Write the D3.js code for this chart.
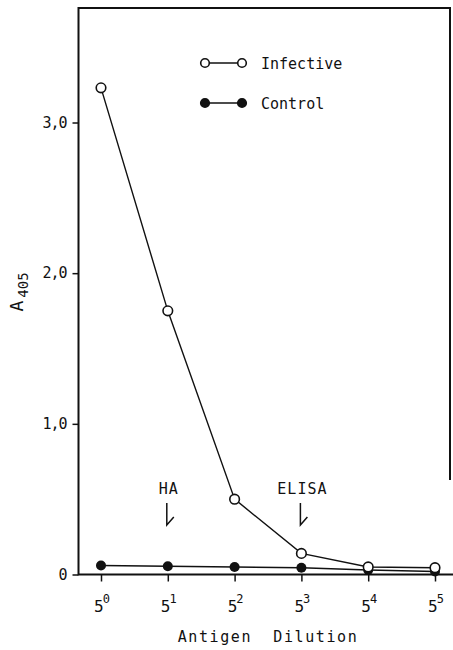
<!DOCTYPE html>
<html>
<head>
<meta charset="utf-8">
<script src="https://cdn.jsdelivr.net/npm/d3@7"></script>
<style>
	body { margin: 0; background: #fff; }
	svg { display: block; }
	text { font-family: "DejaVu Sans Mono", monospace; fill: #111; }
</style>
</head>
<body>
<svg id="chart" width="453" height="650"></svg>
<script>
// data
const exponents = [0, 1, 2, 3, 4, 5]
const infective = [3.23, 1.75, 0.50, 0.14, 0.05, 0.045]
const control = [0.06, 0.055, 0.05, 0.045, 0.03, 0.02]
const yTicks = [0, 1, 2, 3]
const notes = [{ label: 'HA', at: 1 }, { label: 'ELISA', at: 3 }]

const svg = d3.select('#chart')

const x = d3.scalePoint()
	.domain(exponents)
	.range([101, 435])

const y = d3.scaleLinear()
	.domain([0, 3.76])
	.range([574.5, 8])

// frame
svg.append('path')
	.attr('d', 'M450,480 L450,8 L78.5,8 L78.5,574.5 L453,574.5')
	.attr('fill', 'none')
	.attr('stroke', '#111')
	.attr('stroke-width', 2)

// y axis
const yAxis = svg.append('g')
	.attr('transform', 'translate(78.5,0)')
	.call(d3.axisLeft(y)
		.tickValues(yTicks)
		.tickSize(6)
		.tickPadding(6)
		.tickFormat(d => d === 0 ? '0' : d3.format('.1f')(d).replace('.', ',')))
yAxis.select('.domain').remove()
yAxis.selectAll('line').attr('stroke', '#111').attr('stroke-width', 1.5)
yAxis.selectAll('text')
	.style('font-family', '"DejaVu Sans Mono", monospace')
	.attr('font-size', 15)
	.attr('letter-spacing', -1)
	.attr('fill', '#111')

// x axis
const xAxis = svg.append('g')
	.attr('transform', 'translate(0,574.5)')
	.call(d3.axisBottom(x).tickSize(7).tickFormat(''))
xAxis.select('.domain').remove()
xAxis.selectAll('line').attr('stroke', '#111').attr('stroke-width', 1.5)

const xLabels = svg.append('g')
	.selectAll('text')
	.data(exponents)
	.join('text')
	.attr('x', d => x(d) + 1)
	.attr('y', 612)
	.attr('text-anchor', 'middle')
	.attr('font-size', 16)
xLabels.append('tspan').text('5')
xLabels.append('tspan')
	.attr('dx', -1)
	.attr('dy', -9)
	.attr('font-size', 12)
	.text(d => d)

// axis titles
svg.append('text')
	.attr('x', 268)
	.attr('y', 642)
	.attr('text-anchor', 'middle')
	.attr('font-size', 15)
	.attr('letter-spacing', 1.6)
	.attr('xml:space', 'preserve')
	.text('Antigen  Dilution')

const yTitle = svg.append('text')
	.attr('transform', 'translate(23,292) rotate(-90)')
	.attr('text-anchor', 'middle')
	.attr('font-size', 18)
yTitle.append('tspan').text('A')
yTitle.append('tspan')
	.attr('dx', 3)
	.attr('dy', 5)
	.attr('font-size', 14)
	.text('405')

// series
const line = d3.line()
	.x((d, i) => x(exponents[i]))
	.y(d => y(d))

svg.append('path')
	.datum(control)
	.attr('fill', 'none')
	.attr('stroke', '#111')
	.attr('stroke-width', 1.6)
	.attr('d', line)

svg.append('path')
	.datum(infective)
	.attr('fill', 'none')
	.attr('stroke', '#111')
	.attr('stroke-width', 1.4)
	.attr('d', line)

svg.append('g')
	.selectAll('circle')
	.data(control)
	.join('circle')
	.attr('cx', (d, i) => x(exponents[i]))
	.attr('cy', d => y(d))
	.attr('r', 5)
	.attr('fill', '#111')

svg.append('g')
	.selectAll('circle')
	.data(infective)
	.join('circle')
	.attr('cx', (d, i) => x(exponents[i]))
	.attr('cy', d => y(d))
	.attr('r', 4.8)
	.attr('fill', '#fff')
	.attr('stroke', '#111')
	.attr('stroke-width', 1.6)

// annotations with bent arrows
const note = svg.append('g')
	.selectAll('g')
	.data(notes)
	.join('g')
	.attr('transform', d => 'translate(' + x(d.at) + ',0)')
note.append('text')
	.attr('x', 1)
	.attr('y', 494)
	.attr('text-anchor', 'middle')
	.attr('font-size', 15)
	.attr('letter-spacing', 1)
	.text(d => d.label)
note.append('path')
	.attr('d', 'M-1,503 L-1,525 L6,517')
	.attr('fill', 'none')
	.attr('stroke', '#111')
	.attr('stroke-width', 1.5)

// legend
const legend = svg.append('g')
	.selectAll('g')
	.data([{ name: 'Infective', fill: '#fff', y: 63 }, { name: 'Control', fill: '#111', y: 103 }])
	.join('g')
	.attr('transform', d => 'translate(0,' + d.y + ')')
legend.append('line')
	.attr('x1', 205).attr('x2', 242)
	.attr('stroke', '#111')
	.attr('stroke-width', 1.5)
legend.selectAll('circle')
	.data(d => [205, 242].map(cx => ({ cx, fill: d.fill })))
	.join('circle')
	.attr('cx', d => d.cx)
	.attr('r', 4.3)
	.attr('fill', d => d.fill)
	.attr('stroke', '#111')
	.attr('stroke-width', 1.6)
legend.append('text')
	.attr('x', 261)
	.attr('y', 6)
	.attr('font-size', 15)
	.text(d => d.name)
</script>
</body>
</html>
